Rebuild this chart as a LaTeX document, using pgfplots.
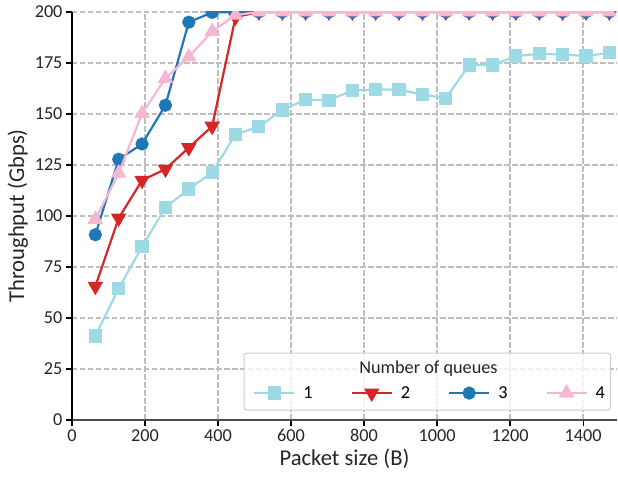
\documentclass[border=0pt]{standalone}
\usepackage{fontspec}
\setmainfont{Carlito}
\usepackage{pgfplots}
\pgfplotsset{compat=1.18}
\definecolor{c1}{HTML}{9EDAE5}
\definecolor{c2}{HTML}{D62728}
\definecolor{c3}{HTML}{1F77B4}
\definecolor{c4}{HTML}{F7B6D2}
\begin{document}
\begin{tikzpicture}
\begin{axis}[
 scale only axis, width=545bp, height=408bp,
 xmin=0, xmax=1493, ymin=0, ymax=200,
 xtick={0,200,...,1400}, ytick={0,25,...,200},
 axis x line=bottom, axis y line=left,
 x axis line style={-, black!70, line width=1.2bp},
 y axis line style={-, black, line width=1.2bp},
 tick align=outside, major tick length=6bp,
 every tick/.style={black, line width=1.1bp},
 grid=major,
 major grid style={line width=1.4bp, color=black!25, dash pattern=on 5.5bp off 2.5bp},
 /pgf/number format/assume math mode=true,
 /pgf/number format/1000 sep={},
 tick label style={font=\fontsize{18.3}{22}\selectfont, color=black!85},
 label style={font=\fontsize{22.7}{27}\selectfont, color=black!85},
 xlabel={Packet size (B)}, ylabel={Throughput (Gbps)},
 clip marker paths=true,
 every mark/.append style={line width=0.4bp},
 legend columns=4,
 legend style={draw=none, fill=none, at={(0.657,0.066)}, anchor=center,
   font=\fontsize{18.3}{22}\selectfont, inner sep=0pt,
   /tikz/every odd column/.append style={column sep=6bp},
   /tikz/every even column/.append style={column sep=36bp}},
 legend image code/.code={\draw[mark repeat=2,mark phase=2] plot coordinates {(0bp,0bp) (20bp,0bp) (40bp,0bp)};},
]
\addplot[c1, line width=2.2bp, mark=square*, mark size=5.5bp] coordinates {
(64,41.2) (128,64.5) (192,85) (256,104.2) (320,113.2) (384,121.4) (448,140) (512,143.8) (576,152) (640,157) (704,156.8) (768,161.5) (832,162) (896,162) (960,159.5) (1024,157.7) (1088,174) (1152,174) (1216,178.4) (1280,179.5) (1344,179.2) (1408,178.4) (1472,180)};
\addlegendentry{1}
\addplot[c2, line width=2.2bp, mark=triangle*, mark size=6.8bp, mark options={rotate=180}] coordinates {
(64,65.5) (128,99) (192,117.5) (256,123) (320,133.5) (384,144) (448,197.5) (512,200) (576,200) (640,200) (704,200) (768,200) (832,200) (896,200) (960,200) (1024,200) (1088,200) (1152,200) (1216,200) (1280,200) (1344,200) (1408,200) (1472,200)};
\addlegendentry{2}
\addplot[c3, line width=2.2bp, mark=*, mark size=5.5bp] coordinates {
(64,90.8) (128,127.8) (192,135.3) (256,154.3) (320,195) (384,199.8) (448,200) (512,200) (576,200) (640,200) (704,200) (768,200) (832,200) (896,200) (960,200) (1024,200) (1088,200) (1152,200) (1216,200) (1280,200) (1344,200) (1408,200) (1472,200)};
\addlegendentry{3}
\addplot[c4, line width=2.2bp, mark=triangle*, mark size=6.8bp] coordinates {
(64,98.4) (128,121) (192,150.3) (256,167.5) (320,178) (384,190.5) (448,198.5) (512,200) (576,200) (640,200) (704,200) (768,200) (832,200) (896,200) (960,200) (1024,200) (1088,200) (1152,200) (1216,200) (1280,200) (1344,200) (1408,200) (1472,200)};
\addlegendentry{4}
\draw[black!20, fill=white, fill opacity=0.8, rounded corners=3bp, line width=1bp] (rel axis cs:0.3156,0.0245) rectangle (rel axis cs:0.9885,0.164);
\node[font=\fontsize{18.3}{22}\selectfont, color=black!85] at (rel axis cs:0.654,0.125) {Number of queues};
\end{axis}
\pgfresetboundingbox
\useasboundingbox ([xshift=-72bp,yshift=-57bp]current axis.south west) rectangle ([xshift=1bp,yshift=12bp]current axis.north east);
\end{tikzpicture}
\end{document}
